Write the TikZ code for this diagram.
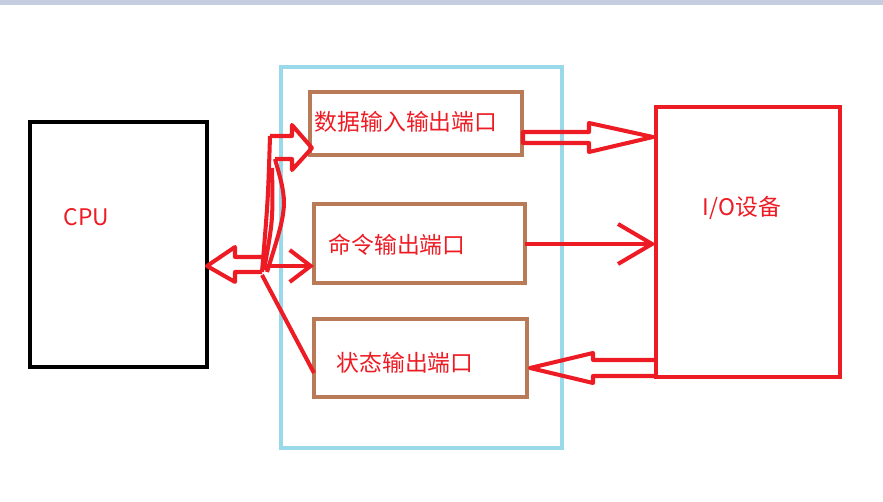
\documentclass[tikz,border=0pt]{standalone}
\usepackage{fontspec}
\newfontfamily\cjk{Noto Sans CJK SC}
\usetikzlibrary{arrows.meta,calc}
\definecolor{paintred}{HTML}{ED1C24}
\definecolor{paintbrown}{HTML}{B97A57}
\definecolor{paintblue}{HTML}{99D9EA}
\definecolor{stripgray}{HTML}{C5CEE0}
\begin{document}
\begin{tikzpicture}[
  x=0.02cm,y=-0.02cm,
  font=\cjk\fontsize{13}{15}\selectfont,
  cpubox/.style={draw=black,line width=2.3pt,inner sep=0pt,outer sep=0pt},
  devbox/.style={draw=paintred,line width=2.3pt,inner sep=0pt,outer sep=0pt},
  portbox/.style={draw=paintbrown,line width=2.3pt,inner sep=0pt,outer sep=0pt},
  busframe/.style={draw=paintblue,line width=2pt,inner sep=0pt,outer sep=0pt},
  wire/.style={draw=paintred,line width=2.3pt},
  fatarrow/.style={draw=paintred,line width=2.3pt,line join=round},
  bigbarb/.style={-{Straight Barb[length=0.68cm,width=0.8cm,line width=2.3pt]}},
  smallbarb/.style={-{Straight Barb[length=0.42cm,width=0.64cm,line width=2.3pt]}},
  lbl/.style={text=paintred,inner sep=0pt}
]
\useasboundingbox (0,0) rectangle (883,502);
\fill[stripgray] (0,0) rectangle (883,5);

% ---- boxes ----
\node[cpubox,minimum width=3.54cm,minimum height=4.9cm] (cpu) at (118.5,244.5) {};
\node[busframe,minimum width=5.62cm,minimum height=7.62cm] (iface) at (421.5,257.5) {};
\node[portbox,minimum width=4.24cm,minimum height=1.26cm] (dataport) at (416,123.5) {};
\node[portbox,minimum width=4.22cm,minimum height=1.58cm] (cmdport) at (419.5,243.5) {};
\node[portbox,minimum width=4.26cm,minimum height=1.56cm] (statport) at (420.5,358) {};
\node[devbox,minimum width=3.68cm,minimum height=5.4cm] (dev) at (748,242) {};

% ---- labels ----
\node[lbl] (cpulbl) at (86.5,217) {CPU};
\node[lbl] (devlbl) at (742,208) {I/O设备};
\node[lbl] (datalbl) at (406,122) {数据输入输出端口};
\node[lbl] (cmdlbl) at (397,245) {命令输出端口};
\node[lbl] (statlbl) at (405,363) {状态输出端口};

% ---- bus on the CPU side ----
\coordinate (bus) at (262,266);
\draw[fatarrow] (262,257) -- (235,257) -- (235,247) -- (cpu.east |- bus)
  -- (235,282) -- (235,272) -- (262,272);
\draw[wire] (270,136) .. controls (268,200) .. (262,272);
\draw[wire] (275,159) .. controls (288,205) .. (267,272);
\draw[wire] (272,168) .. controls (273,220) .. (264,270);
\draw[fatarrow] (270,136) -- (292,136) -- (292,125) -- (312,148)
  -- (292,170) -- (292,159) -- (275,159);
\draw[wire,smallbarb] (bus) -- (cmdport.west |- bus);
\draw[wire] (262,275) -- ($(statport.west)+(0,15)$);

% ---- device side ----
\draw[fatarrow] (523,132) -- (589,132) -- (589,123) -- (653,137)
  -- (589,152) -- (589,143) -- (523,143) -- cycle;
\draw[wire,bigbarb] (cmdport.east |- 0,244) -- (dev.west |- 0,244);
\draw[fatarrow] (657,360) -- (593,360) -- (593,353) -- (530,368)
  -- (593,383) -- (593,376) -- (657,376);

\end{tikzpicture}
\end{document}
